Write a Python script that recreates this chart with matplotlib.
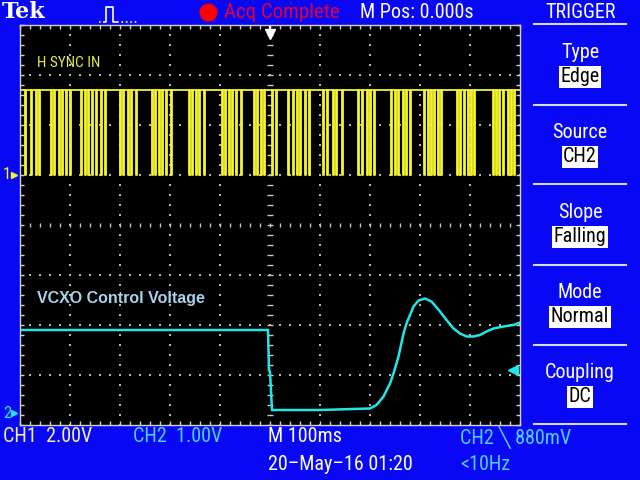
import numpy as np
import matplotlib.pyplot as plt
from matplotlib.lines import Line2D

# scope settings
ch1_volts_div = 2.0
ch2_volts_div = 1.0
time_div_ms = 100.0
ch1_offset_div = 1.0
ch2_offset_div = -3.78
trig_level_v = 0.88

# CH1 - H sync (aliased at 100ms/div), pulse start times in ms
ch1_high_v = 3.4
ch1_low_v = 0.0
ch1_pulse_width_ms = 1.5
ch1_pulse_ms = [-490, -478, -468, -462, -438, -432, -422, -416, -408, -400,
                -378, -370, -364, -356, -348, -338, -330, -300, -294, -284,
                -278, -268, -236, -230, -222, -216, -208, -198, -162, -156,
                -148, -142, -132, -96, -90, -82, -76, -68, -58, -32, -26,
                -18, -12, 4, 12, 36, 46, 54, 60, 70, 78, 106, 114, 126, 132,
                144, 176, 184, 194, 200, 208, 242, 250, 256, 266, 272, 280,
                308, 316, 322, 328, 336, 342, 374, 380, 388, 396, 402, 408,
                446, 452, 458, 466, 476, 482, 488]

# CH2 - VCXO control voltage
ch2_t_ms = [-500, -4, -2, 0, 4, 100, 200, 213, 227, 240, 247, 257, 267, 273,
            280, 287, 297, 310, 323, 340, 353, 367, 380, 393, 407, 420, 433,
            447, 467, 487, 500]
ch2_v = [1.68, 1.68, 0.88, 0.84, 0.08, 0.08, 0.11, 0.18, 0.35, 0.61, 0.81,
         1.15, 1.61, 1.81, 1.98, 2.15, 2.27, 2.31, 2.25, 2.05, 1.88, 1.71,
         1.61, 1.55, 1.55, 1.58, 1.65, 1.71, 1.75, 1.78, 1.83]

panel_titles = ['Type', 'Source', 'Slope', 'Mode', 'Coupling']
panel_values = ['Edge', 'CH2', 'Falling', 'Normal', 'DC']

BLUE = '#0808f4'
YEL = '#f5f52a'
CYAN = '#22e6e6'
CH1_TXT = '#f2f0a8'
CH2_TXT = '#4cd2ff'
FONT = ['Roboto Condensed', 'Liberation Sans', 'DejaVu Sans']
FS = 14.5

fig = plt.figure(figsize=(6.4, 4.8), dpi=100, facecolor=BLUE)


def px(x, y):
    return x / 640, 1 - y / 480


def ftext(x, y, s, color='white', size=FS, ha='left', **kw):
    fig.text(*px(x, y), s, color=color, fontsize=size, ha=ha, va='center',
             family=FONT, **kw)


ax = fig.add_axes([20 / 640, 55 / 480, 500 / 640, 400 / 480], facecolor='black')
ax.set_xlim(-5, 5)
ax.set_ylim(-4, 4)
for sp in ax.spines.values():
    sp.set_color('#d0d0d0')
    sp.set_linewidth(1)
ax.set_xticks(np.arange(-5, 5.01, 0.2))
ax.set_yticks(np.arange(-4, 4.01, 0.2))
ax.tick_params(direction='in', length=3, color='#d0d0d0', width=1,
               top=True, right=True, labelbottom=False, labelleft=False)

# graticule dots
yy = np.arange(-4, 4.01, 0.2)
xx = np.arange(-5, 5.01, 0.2)
for k in range(-4, 5):
    if k != 0:
        ax.scatter(np.full_like(yy, k), yy, s=1.3, c='#b8b8b8', marker='s', lw=0)
for j in range(-3, 4):
    if j != 0:
        ax.scatter(xx, np.full_like(xx, j), s=1.3, c='#b8b8b8', marker='s', lw=0)
ax.plot(np.zeros_like(yy), yy, ls='none', marker='_', ms=4, mew=1, color='#c8c8c8')
ax.plot(xx, np.zeros_like(xx), ls='none', marker='|', ms=3, mew=1, color='#c8c8c8')

# CH1 trace
t1 = [-500.0]
v1 = [ch1_high_v]
for p in ch1_pulse_ms:
    t1 += [p, p, p + ch1_pulse_width_ms, p + ch1_pulse_width_ms]
    v1 += [ch1_high_v, ch1_low_v, ch1_low_v, ch1_high_v]
t1.append(500.0)
v1.append(ch1_high_v)
ax.plot(np.array(t1) / time_div_ms, ch1_offset_div + np.array(v1) / ch1_volts_div,
        color=YEL, lw=1.3)

# CH2 trace
ax.plot(np.array(ch2_t_ms) / time_div_ms, ch2_offset_div + np.array(ch2_v) / ch2_volts_div,
        color=CYAN, lw=1.8)

# trigger markers
ax.plot([0], [3.82], marker='v', ms=7, color='white', clip_on=False)
ax.plot([0, 0], [3.82, 4.0], color='white', lw=1.5)
ax.plot([4.86], [ch2_offset_div + trig_level_v / ch2_volts_div], marker='<',
        ms=7, color=CYAN, clip_on=False)

ax.text(-4.66, 3.24, 'H SYNC IN', color='#e6e650', fontsize=11, va='center',
        family=FONT)
ax.text(-4.66, -1.46, 'VCXO Control Voltage', color='#a8d2ea', fontsize=11.5,
        fontweight='bold', va='center', family=['Liberation Sans', 'DejaVu Sans'])

# ground markers
ftext(3, 175, '1', color=YEL, size=12)
fig.add_artist(Line2D([14 / 640], [1 - 175 / 480], marker='>', ms=5, color=YEL))
ftext(3, 413, '2', color=CYAN, size=12)
fig.add_artist(Line2D([14 / 640], [1 - 413 / 480], marker='>', ms=5, color=CYAN))

# header
fig.text(*px(2, 12), 'Tek', color='white', fontsize=16, fontweight='bold',
         va='center', family='DejaVu Serif')
fig.add_artist(Line2D(np.array([104, 106, 106, 113, 113, 117]) / 640,
                      1 - np.array([22, 22, 7, 7, 22, 22]) / 480,
                      color='white', lw=1.2))
fig.add_artist(Line2D(np.array([117, 137]) / 640, 1 - np.array([22, 22]) / 480,
                      color='white', lw=1.2, ls=':'))
fig.add_artist(Line2D(np.array([99, 104]) / 640, 1 - np.array([22, 22]) / 480,
                      color='white', lw=1.2, ls=':'))
fig.add_artist(Line2D([208 / 640], [1 - 12 / 480], marker='o', ms=13,
                      color='#ff0000', mew=0))
ftext(224, 12, 'Acq Complete', color='#e0003c', size=15)
ftext(360, 12, 'M Pos: 0.000s', size=FS)
ftext(581, 12, 'TRIGGER', size=FS, ha='center')

# side panel
for y in [24, 105, 184, 265, 345, 424]:
    fig.add_artist(Line2D([534 / 640, 626 / 640], [1 - y / 480] * 2,
                          color='#d8d8f0', lw=1.5))
for i, (ttl, val) in enumerate(zip(panel_titles, panel_values)):
    ftext(580, 52 + 80 * i, ttl, size=FS, ha='center')
    ftext(580, 77 + 80 * i, val, color='black', size=FS, ha='center',
          bbox=dict(facecolor='white', edgecolor='none', pad=1.0))

# footer
ftext(3, 437, 'CH1  2.00V', color=CH1_TXT)
ftext(133, 437, 'CH2  1.00V', color=CH2_TXT)
ftext(268, 437, 'M 100ms')
ftext(460, 437, 'CH2 \u2572 880mV', color=CH2_TXT)
ftext(268, 465, '20\u2013May\u201316 01:20')
ftext(460, 465, '<10Hz', color=CH2_TXT)

fig.savefig('out.png', dpi=100, facecolor=BLUE)
